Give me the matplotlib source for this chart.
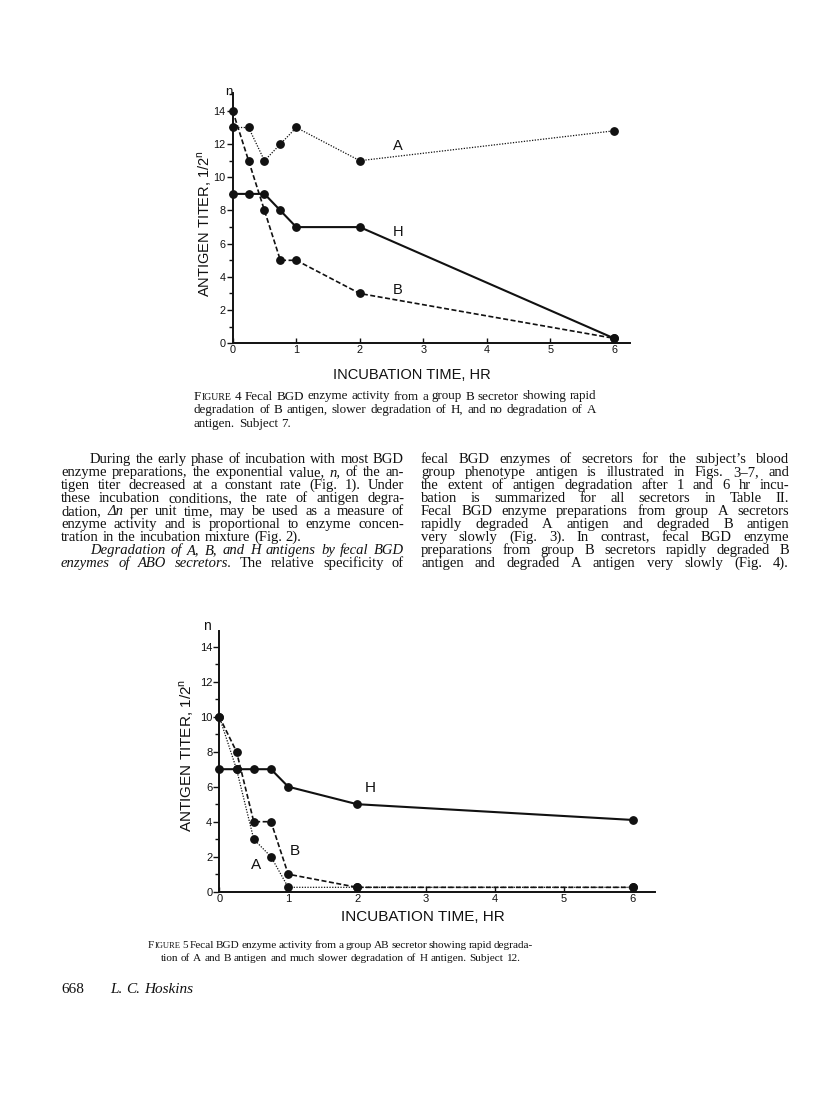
import numpy as np
import matplotlib
matplotlib.use("Agg")
import matplotlib.pyplot as plt
from matplotlib.ticker import MultipleLocator

W, H = 816, 1100
INK = "#111111"
SERIF = ["Liberation Serif", "DejaVu Serif"]
SANS = ["Liberation Sans Narrow", "Liberation Sans", "DejaVu Sans"]

# Figure 4: group B secretor, subject 7
f4_hours = [0, 0.25, 0.5, 0.75, 1, 2, 6]
f4_a = [13, 13, 11, 12, 13, 11, 12.8]
f4_h = [9, 9, 9, 8, 7, 7, 0.3]
f4_b = [14, 11, 8, 5, 5, 3, 0.3]

# Figure 5: group AB secretor, subject 12
f5_hours = [0, 0.25, 0.5, 0.75, 1, 2, 6]
f5_a = [10, 7, 3, 2, 0.25, 0.25, 0.25]
f5_h = [7, 7, 7, 7, 6, 5, 4.1]
f5_b = [10, 8, 4, 4, 1, 0.25, 0.25]

y_ticks = [0, 2, 4, 6, 8, 10, 12, 14]
x_ticks = [0, 1, 2, 3, 4, 5, 6]
x_ticklabels = ["0", "1", "2", "3", "4", "5", "6"]

x_title = "INCUBATION TIME, HR"
y_title = "ANTIGEN TITER, 1/2$^{\\mathregular{n}}$"

caption4 = [
    "FIGURE 4  Fecal BGD enzyme activity from a group B secretor showing rapid",
    "degradation of B antigen, slower degradation of H, and no degradation of A",
    "antigen. Subject 7.",
]
caption5 = [
    "FIGURE 5  Fecal BGD enzyme activity from a group AB secretor showing rapid degrada-",
    "tion of A and B antigen and much slower degradation of H antigen. Subject 12.",
]
left_col = [
    "During the early phase of incubation with most BGD",
    "enzyme preparations, the exponential value, *n,* of the an-",
    "tigen titer decreased at a constant rate (Fig. 1). Under",
    "these incubation conditions, the rate of antigen degra-",
    "dation, *\u0394n* per unit time, may be used as a measure of",
    "enzyme activity and is proportional to enzyme concen-",
    "tration in the incubation mixture (Fig. 2).",
    "*Degradation of A, B, and H antigens by fecal BGD*",
    "*enzymes of ABO secretors.*  The relative specificity of",
]
right_col = [
    "fecal BGD enzymes of secretors for the subject\u2019s blood",
    "group phenotype antigen is illustrated in Figs. 3\u20137, and",
    "the extent of antigen degradation after 1 and 6 hr incu-",
    "bation is summarized for all secretors in Table II.",
    "Fecal BGD enzyme preparations from group A secretors",
    "rapidly degraded A antigen and degraded B antigen",
    "very slowly (Fig. 3). In contrast, fecal BGD enzyme",
    "preparations from group B secretors rapidly degraded B",
    "antigen and degraded A antigen very slowly (Fig. 4).",
]

fig = plt.figure(figsize=(W / 100, H / 100), dpi=100)
fig.patch.set_facecolor("white")
renderer = fig.canvas.get_renderer()


def fx(x):
    return x / W


def fy(y):
    return 1 - y / H


def make_word(word, size, italic):
    if word.startswith("FIGURE"):
        parts = [("F", size), ("IGURE", size * 0.76)]
    else:
        parts = [(word, size)]
    arts = []
    for s, sz in parts:
        t = fig.text(0, 0, s, fontsize=sz, family=SERIF, color=INK,
                     style="italic" if italic else "normal",
                     ha="left", va="baseline")
        arts.append((t, t.get_window_extent(renderer).width))
    return arts


def text_line(line, x0, x1, y, size, align="justify"):
    words = []
    italic = False
    for w in line.split():
        if w.startswith("*"):
            italic = True
            w = w[1:]
        end = w.endswith("*")
        if end:
            w = w[:-1]
        words.append(make_word(w, size, italic))
        if end:
            italic = False
    widths = [sum(tw for _, tw in arts) for arts in words]
    total = sum(widths)
    if align == "justify" and len(words) > 1:
        gap = (x1 - x0 - total) / (len(words) - 1)
    else:
        gap = 0.27 * size * 100 / 72
    x = x0
    if align == "center":
        x = (x0 + x1) / 2 - (total + gap * (len(words) - 1)) / 2
    for arts, wd in zip(words, widths):
        cx = x
        for t, tw in arts:
            t.set_position((fx(cx), fy(y)))
            cx += tw
        x += wd + gap


def page_axes(x0, y0, ux, uy, xmax, ymax, tick_size):
    # x0, y0: pixel position of the origin; ux, uy: pixels per unit
    ax = fig.add_axes([fx(x0), fy(y0), xmax * ux / W, ymax * uy / H])
    ax.set_xlim(0, xmax)
    ax.set_ylim(0, ymax)
    ax.set_facecolor("none")
    for side in ["top", "right"]:
        ax.spines[side].set_visible(False)
    for side in ["left", "bottom"]:
        ax.spines[side].set_linewidth(1.4)
        ax.spines[side].set_color(INK)
    ax.set_yticks(y_ticks)
    ax.yaxis.set_minor_locator(MultipleLocator(1))
    ax.set_xticks(x_ticks)
    ax.set_xticklabels(x_ticklabels)
    ax.tick_params(axis="y", which="major", direction="out", length=4,
                   width=1, pad=1, labelsize=tick_size, colors=INK)
    ax.tick_params(axis="y", which="minor", direction="out", length=3,
                   width=1, colors=INK)
    ax.tick_params(axis="x", which="major", direction="in", length=3.5,
                   width=1, pad=1.5, labelsize=tick_size, colors=INK)
    for lab in ax.get_xticklabels() + ax.get_yticklabels():
        lab.set_family(SANS)
    return ax


def draw_series(ax, hours, a, h, b):
    kw = dict(color=INK, marker="o", ms=5.3, mec=INK, mfc=INK,
              clip_on=False, zorder=3)
    ax.plot(hours, a, ls=(0, (1, 1.2)), lw=0.9, **kw)
    ax.plot(hours, h, ls="-", lw=1.5, **kw)
    ax.plot(hours, b, ls=(0, (3, 1.5)), lw=1.2, **kw)


# ---- Figure 4 ----
ax4 = page_axes(232.7, 343.3, 63.55, 16.6, 6.25, 15.1, 7.8)
draw_series(ax4, f4_hours, f4_a, f4_h, f4_b)
for lab, (lx, ly) in zip(["A", "H", "B"], [(2.6, 11.9), (2.6, 6.7), (2.6, 3.2)]):
    ax4.text(lx, ly, lab, fontsize=10.5, family=SANS, color=INK,
             ha="center", va="center")
fig.text(fx(229), fy(92), "n", fontsize=9.5, family=SANS, color=INK,
         ha="center", va="center")
fig.text(fx(205), fy(223), y_title, fontsize=10.5, family=SANS, color=INK,
         rotation=90, ha="center", va="center")
fig.text(fx(412), fy(375), x_title, fontsize=10.5, family=SANS, color=INK,
         ha="center", va="center")

# ---- Figure 5 ----
ax5 = page_axes(219.3, 891.7, 68.9, 17.5, 6.32, 14.9, 8)
draw_series(ax5, f5_hours, f5_a, f5_h, f5_b)
for lab, (lx, ly) in zip(["A", "H", "B"], [(0.54, 1.5), (2.19, 5.9), (1.1, 2.3)]):
    ax5.text(lx, ly, lab, fontsize=11, family=SANS, color=INK,
             ha="center", va="center")
fig.text(fx(207), fy(626), "n", fontsize=10, family=SANS, color=INK,
         ha="center", va="center")
fig.text(fx(187), fy(755), y_title, fontsize=11, family=SANS, color=INK,
         rotation=90, ha="center", va="center")
fig.text(fx(423), fy(917), x_title, fontsize=11, family=SANS, color=INK,
         ha="center", va="center")

# ---- captions and body text ----
for i, line in enumerate(caption4):
    text_line(line, 194, 596, 399.5 + 13.6 * i, 9.4,
              "left" if i == len(caption4) - 1 else "justify")
text_line(caption5[0], 148, 533, 948.5, 8.1, "justify")
text_line(caption5[1], 148, 533, 961, 8.1, "center")

for i, line in enumerate(left_col):
    x0 = 90 if i in (0, 7) else 61
    text_line(line, x0, 404, 463 + 13 * i, 10.5,
              "left" if i == 6 else "justify")
for i, line in enumerate(right_col):
    text_line(line, 421, 789, 463 + 13 * i, 10.5, "justify")

text_line("668", 61, 100, 993, 11, "left")
text_line("*L. C. Hoskins*", 110, 200, 993, 11, "left")

fig.savefig("out.png", dpi=100, facecolor="white")
